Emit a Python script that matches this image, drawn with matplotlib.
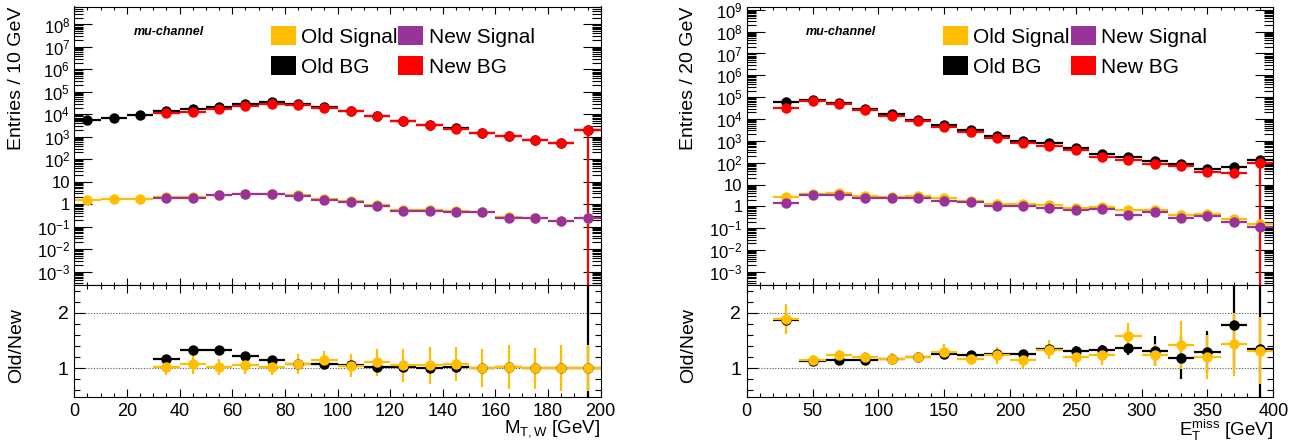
import numpy as np
import matplotlib
matplotlib.use('Agg')
import matplotlib.pyplot as plt
from matplotlib.patches import Patch
from matplotlib.ticker import FixedLocator, MultipleLocator, FuncFormatter, NullFormatter

plt.rcParams['font.family'] = ['Liberation Sans', 'DejaVu Sans']
plt.rcParams['mathtext.fontset'] = 'custom'
plt.rcParams['mathtext.rm'] = 'Liberation Sans'
plt.rcParams['mathtext.it'] = 'Liberation Sans:italic'
plt.rcParams['mathtext.bf'] = 'Liberation Sans:bold'

nan = np.nan

# ---------------- Left panel: M_T,W (10 GeV bins) ----------------
mt_edges = np.arange(0, 201, 10)
mt_old_bg = [5400, 6600, 9600, 13700, 16800, 21900, 28400, 33700, 27700, 21200,
             14700, 8340, 5150, 3380, 2350, 1440, 1120, 730, 550, 1950]
mt_new_bg = [nan, nan, nan, 11800, 12700, 16600, 23300, 29600, 25900, 19800,
             14000, 8100, 5000, 3350, 2300, 1440, 1100, 730, 550, 1950]
mt_new_bg_err_down = [0] * 19 + [1950]
mt_old_sig = [1.5, 1.78, 1.78, 2.01, 2.11, 2.55, 2.91, 2.83, 2.44, 1.71,
              1.33, 0.93, 0.536, 0.536, 0.492, 0.46, 0.255, 0.25, 0.177, 0.25]
mt_new_sig = [nan, nan, nan, 1.97, 1.97, 2.5, 2.77, 2.77, 2.26, 1.5,
              1.27, 0.84, 0.51, 0.51, 0.46, 0.46, 0.25, 0.25, 0.177, 0.25]
mt_bg_ratio_err = [nan, nan, nan, 0.03, 0.03, 0.03, 0.03, 0.03, 0.03, 0.03,
                   0.03, 0.04, 0.04, 0.05, 0.05, 0.06, 0.07, 0.08, 0.1, 1.6]
mt_sig_ratio_err = [nan, nan, nan, 0.15, 0.18, 0.15, 0.16, 0.15, 0.18, 0.17,
                    0.2, 0.24, 0.3, 0.33, 0.31, 0.34, 0.39, 0.37, 0.42, 0.41]

# ---------------- Right panel: E_T^miss (20 GeV bins) ----------------
et_edges = np.arange(20, 401, 20)
et_old_bg = [61000, 74200, 52800, 30100, 16500, 9340, 5360, 3010, 1750, 1000,
             788, 485, 243, 177, 119, 88, 49, 60.5, 132]
et_new_bg = [32700, 65700, 46300, 26400, 14100, 7780, 4290, 2450, 1400, 800,
             584, 370, 184, 130, 91, 74, 38, 34, 98]
et_new_bg_err_down = [0] * 18 + [98]
et_old_sig = [2.67, 3.88, 4.18, 2.88, 2.81, 2.88, 2.35, 1.85, 1.23, 1.22,
              1.12, 0.84, 0.935, 0.664, 0.652, 0.412, 0.45, 0.266, 0.150]
et_new_sig = [1.42, 3.40, 3.40, 2.40, 2.40, 2.40, 1.81, 1.58, 1.0, 1.07,
              0.84, 0.70, 0.76, 0.42, 0.53, 0.29, 0.375, 0.186, 0.114]
et_bg_ratio_err = [0.05, 0.03, 0.03, 0.03, 0.03, 0.03, 0.04, 0.04, 0.05, 0.06,
                   0.07, 0.08, 0.1, 0.12, 0.27, 0.39, 0.38, 0.8, 1.3]
et_sig_ratio_err = [0.27, 0.1, 0.1, 0.1, 0.1, 0.1, 0.13, 0.12, 0.15, 0.14,
                    0.17, 0.18, 0.17, 0.24, 0.2, 0.43, 0.4, 0.57, 0.6]

C_OLD_SIG = '#FFBE00'
C_NEW_SIG = '#993399'
C_OLD_BG = '#000000'
C_NEW_BG = '#FF0000'

W, H = 1309, 447
fig = plt.figure(figsize=(W / 100, H / 100), dpi=100)


def add_axes(x0, x1, ytop, ybot):
    return fig.add_axes([x0 / W, (H - ybot) / H, (x1 - x0) / W, (ybot - ytop) / H])


def logfmt(v, pos):
    e = int(round(np.log10(v)))
    if e == 0:
        return '1'
    if e == 1:
        return '10'
    return r'$10^{%d}$' % e


def draw_panel(x0, x1, edges, old_bg, new_bg, new_bg_err_down, old_sig, new_sig,
               bg_ratio_err, sig_ratio_err, ylog_max, xmax, xmaj, xmin_, ylabel, xlabel):
    ax = add_axes(x0, x1, 6.5, 285)
    axr = add_axes(x0, x1, 285, 397)
    edges = np.asarray(edges, float)
    cen = 0.5 * (edges[:-1] + edges[1:])
    half = 0.5 * np.diff(edges)
    old_bg = np.asarray(old_bg, float)
    new_bg = np.asarray(new_bg, float)
    old_sig = np.asarray(old_sig, float)
    new_sig = np.asarray(new_sig, float)
    kw = dict(fmt='o', ms=7.5, lw=1.6, capsize=0, mew=0)

    ax.errorbar(cen, old_bg, xerr=half, color=C_OLD_BG, mfc=C_OLD_BG, **kw)
    ax.errorbar(cen, new_bg, xerr=half,
                yerr=[np.asarray(new_bg_err_down, float), np.zeros(len(cen))],
                color=C_NEW_BG, mfc=C_NEW_BG, **kw)
    ax.errorbar(cen, old_sig, xerr=half, color=C_OLD_SIG, mfc=C_OLD_SIG, **kw)
    ax.errorbar(cen, new_sig, xerr=half, color=C_NEW_SIG, mfc=C_NEW_SIG, **kw)

    ax.set_yscale('log', nonpositive='clip')
    ax.set_ylim(10 ** -3.6, 10 ** ylog_max)
    ax.set_xlim(0, xmax)
    ax.yaxis.set_major_locator(FixedLocator(10.0 ** np.arange(-3, 10)))
    ax.yaxis.set_minor_locator(FixedLocator(
        [m * 10.0 ** e for e in range(-4, 10) for m in range(2, 10)]))
    ax.yaxis.set_major_formatter(FuncFormatter(logfmt))
    ax.yaxis.set_minor_formatter(NullFormatter())
    ax.xaxis.set_major_locator(MultipleLocator(xmaj))
    ax.xaxis.set_minor_locator(MultipleLocator(xmin_))
    ax.tick_params(axis='both', which='both', direction='in', top=True, right=True,
                   labelbottom=False, width=0.8)
    ax.tick_params(axis='y', which='major', length=13, labelsize=12, pad=3)
    ax.tick_params(axis='y', which='minor', length=6.5)
    ax.tick_params(axis='x', which='major', length=5)
    ax.tick_params(axis='x', which='minor', length=2.5)
    ax.set_ylabel(ylabel, fontsize=14, loc='top')
    ax.yaxis.set_label_coords(-0.094, 1.0)

    ax.text(0.113, 0.908, 'mu-channel', transform=ax.transAxes, fontsize=9,
            fontweight='bold', fontstyle='italic', va='center', ha='left')

    handles = [Patch(facecolor=C_OLD_SIG, edgecolor='none'),
               Patch(facecolor=C_OLD_BG, edgecolor='none'),
               Patch(facecolor=C_NEW_SIG, edgecolor='none'),
               Patch(facecolor=C_NEW_BG, edgecolor='none')]
    labels = ['Old Signal', 'Old BG', 'New Signal', 'New BG']
    ax.legend(handles, labels, ncol=2, loc='upper left', bbox_to_anchor=(0.373, 0.93),
              frameon=False, fontsize=15, handlelength=1.2, handleheight=1.05,
              handletextpad=0.25, columnspacing=0.05, labelspacing=0.45,
              borderpad=0, borderaxespad=0)

    # ratio pad
    bg_ratio = old_bg / new_bg
    sig_ratio = old_sig / new_sig
    axr.errorbar(cen, bg_ratio, xerr=half, yerr=np.asarray(bg_ratio_err, float),
                 color=C_OLD_BG, mfc=C_OLD_BG, **kw)
    axr.errorbar(cen, sig_ratio, xerr=half, yerr=np.asarray(sig_ratio_err, float),
                 color=C_OLD_SIG, mfc=C_OLD_SIG, **kw)
    for yv in (1, 2):
        axr.axhline(yv, color='#555555', lw=0.8, ls=(0, (1, 1.5)), zorder=0)
    axr.set_xlim(0, xmax)
    axr.set_ylim(0.48, 2.5)
    axr.yaxis.set_major_locator(FixedLocator([1, 2]))
    axr.yaxis.set_minor_locator(FixedLocator(np.arange(0.6, 2.5, 0.2)))
    axr.xaxis.set_major_locator(MultipleLocator(xmaj))
    axr.xaxis.set_minor_locator(MultipleLocator(xmin_))
    axr.tick_params(axis='both', which='both', direction='in', top=True, right=True, width=0.8)
    axr.tick_params(axis='x', which='major', labelsize=13)
    axr.tick_params(axis='y', which='major', labelsize=14)
    axr.tick_params(axis='y', which='major', length=8, pad=4)
    axr.tick_params(axis='y', which='minor', length=4.5)
    axr.tick_params(axis='x', which='major', length=6, pad=4)
    axr.tick_params(axis='x', which='minor', length=3)
    axr.set_ylabel('Old/New', fontsize=14)
    axr.yaxis.set_label_coords(-0.094, 0.46)
    axr.set_xlabel(xlabel, fontsize=13.5, loc='right')
    axr.xaxis.set_label_coords(1.0, -0.19)

    for a in (ax, axr):
        for s in a.spines.values():
            s.set_linewidth(0.8)
    return ax, axr


draw_panel(74.3, 600.7, mt_edges, mt_old_bg, mt_new_bg, mt_new_bg_err_down,
           mt_old_sig, mt_new_sig, mt_bg_ratio_err, mt_sig_ratio_err,
           8.8, 200, 20, 5, 'Entries / 10 GeV', r'M$_{\mathregular{T,W}}$ [GeV]')
draw_panel(746.7, 1273.3, et_edges, et_old_bg, et_new_bg, et_new_bg_err_down,
           et_old_sig, et_new_sig, et_bg_ratio_err, et_sig_ratio_err,
           9.15, 400, 50, 10, 'Entries / 20 GeV',
           r'E$_{\mathregular{T}}^{\mathregular{miss}}$ [GeV]')

fig.savefig('out.png', dpi=100)
